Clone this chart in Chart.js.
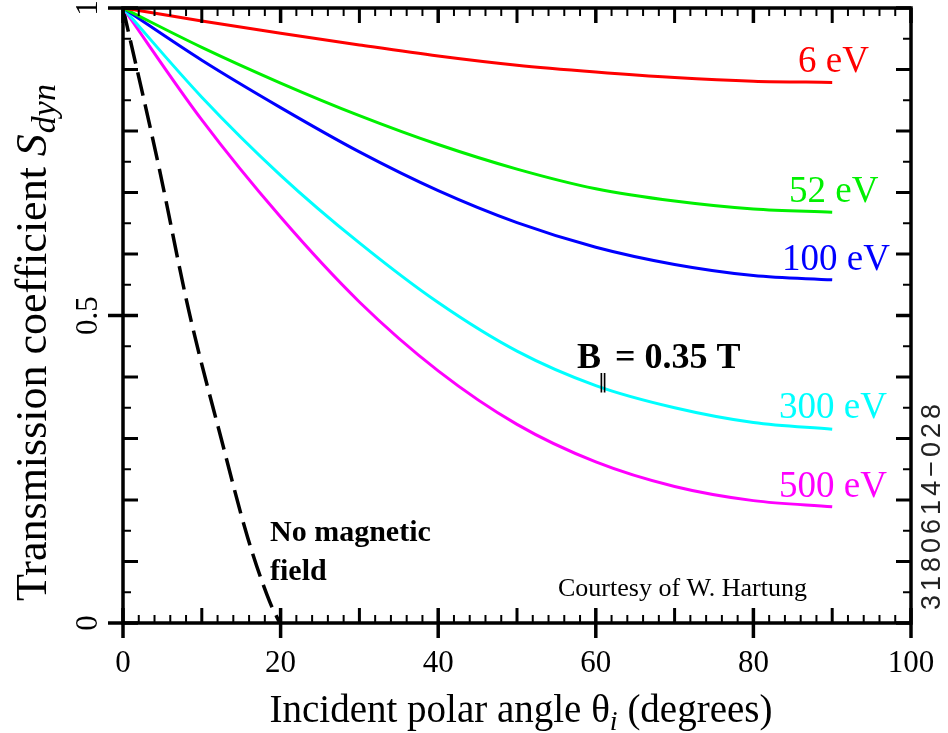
<!DOCTYPE html>
<html><head><meta charset="utf-8">
<script src="https://cdn.jsdelivr.net/npm/chart.js@4.4.1/dist/chart.umd.min.js"></script>
<style>html,body{margin:0;padding:0;background:#fff;}#wrap{width:948px;height:733px;}</style>
</head><body><div id="wrap"><canvas id="c" width="948" height="733"></canvas></div>
<script>
// ---- data ----
const angles = [0, 10, 20, 30, 40, 50, 60, 70, 80, 90];
const s6eV   = [1, 0.979, 0.959, 0.940, 0.922, 0.907, 0.896, 0.887, 0.881, 0.879];
const s52eV  = [1, 0.936, 0.878, 0.825, 0.778, 0.738, 0.706, 0.686, 0.673, 0.668];
const s100eV = [1, 0.915, 0.838, 0.766, 0.703, 0.651, 0.611, 0.583, 0.565, 0.558];
const s300eV = [1, 0.855, 0.728, 0.618, 0.521, 0.442, 0.386, 0.350, 0.326, 0.315];
const s500eV = [1, 0.818, 0.660, 0.522, 0.410, 0.323, 0.262, 0.222, 0.199, 0.189];
const noFieldAngles = [0, 4.5, 8.4, 12.5, 15.8, 18.6, 19.9];
const noFieldS      = [1, 0.745, 0.505, 0.298, 0.14, 0.035, 0];
const xTicks = [0, 20, 40, 60, 80, 100];
const yTicks = [0, 0.5, 1];
const yTickLabels = ['0', '0.5', '1'];
const seriesLabels = ['6 eV', '52 eV', '100 eV', '300 eV', '500 eV'];

const SERIF = "'Liberation Serif', 'Times New Roman', serif";
const SANS = "'Liberation Sans', Arial, sans-serif";
const colors = ['#ff0000', '#00f000', '#0000ff', '#00ffff', '#ff00ff'];
const seriesValues = [s6eV, s52eV, s100eV, s300eV, s500eV];
const pts = (xs, ys) => xs.map((v, i) => ({x: v, y: ys[i]}));

const datasets = seriesValues.map((vals, i) => ({
  label: seriesLabels[i], data: pts(angles, vals), borderColor: colors[i],
  borderWidth: 3, pointRadius: 0, cubicInterpolationMode: 'monotone', fill: false
}));
datasets.push({label: 'No magnetic field', data: pts(noFieldAngles, noFieldS), borderColor: '#000',
  borderWidth: 3.5, borderDash: [24, 9], pointRadius: 0, cubicInterpolationMode: 'monotone', fill: false});

// label placement (pixel offsets, style only)
const labelPos = [[798, 72], [789, 202], [782, 270], [779, 418], [779, 497]];

const framePlugin = {
  id: 'frame',
  afterDatasetsDraw(chart) {
    const {ctx, chartArea: a, scales: {x, y}} = chart;
    ctx.save();
    ctx.strokeStyle = '#000'; ctx.lineCap = 'butt';
    for (let v = 0; v <= 100; v += 2) {
      const px = x.getPixelForValue(v);
      let len = 8, w = 2, out = 0;
      if (v % 20 === 0) { len = 15; w = 3.5; out = 15; } else if (v % 10 === 0) { len = 15; w = 3; }
      ctx.lineWidth = w;
      ctx.beginPath(); ctx.moveTo(px, a.bottom + out); ctx.lineTo(px, a.bottom - len); ctx.stroke();
      ctx.beginPath(); ctx.moveTo(px, a.top); ctx.lineTo(px, a.top + len); ctx.stroke();
    }
    for (let i = 0; i <= 20; i++) {
      const py = y.getPixelForValue(i * 0.05);
      let len = 8, w = 2, out = 0;
      if (i % 10 === 0) { len = 15; w = 3.5; out = 15; } else if (i % 2 === 0) { len = 15; w = 3; }
      ctx.lineWidth = w;
      ctx.beginPath(); ctx.moveTo(a.left - out, py); ctx.lineTo(a.left + len, py); ctx.stroke();
      ctx.beginPath(); ctx.moveTo(a.right, py); ctx.lineTo(a.right - len, py); ctx.stroke();
    }
    ctx.lineWidth = 3.5;
    ctx.strokeRect(a.left, a.top, a.right - a.left, a.bottom - a.top);
    ctx.restore();
  },
  afterDraw(chart) {
    const {ctx, scales: {y}} = chart;
    ctx.save();
    ctx.fillStyle = '#000';
    // y tick labels (rotated)
    ctx.font = `31px ${SERIF}`;
    yTicks.forEach((v, i) => {
      ctx.save();
      ctx.translate(97, y.getPixelForValue(v));
      ctx.rotate(-Math.PI / 2);
      ctx.textAlign = 'center'; ctx.textBaseline = 'alphabetic';
      ctx.fillText(yTickLabels[i], 0, 0);
      ctx.restore();
    });
    // y axis title
    ctx.save();
    ctx.translate(46, 601);
    ctx.rotate(-Math.PI / 2);
    ctx.textAlign = 'left'; ctx.textBaseline = 'alphabetic';
    ctx.font = `44px ${SERIF}`;
    const t1 = 'Transmission coefficient ';
    ctx.fillText(t1, 0, 0);
    let off = ctx.measureText(t1).width;
    ctx.font = `italic 44px ${SERIF}`;
    ctx.fillText('S', off, 0);
    off += ctx.measureText('S').width + 1;
    ctx.font = `italic 34px ${SERIF}`;
    ctx.fillText('dyn', off, 9);
    ctx.restore();
    // x axis title
    ctx.save();
    ctx.textBaseline = 'alphabetic'; ctx.textAlign = 'left';
    const p1 = 'Incident polar angle θ', p3 = ' (degrees)';
    ctx.font = `39px ${SERIF}`;
    const w1 = ctx.measureText(p1).width, w3 = ctx.measureText(p3).width;
    ctx.font = `italic 28px ${SERIF}`;
    const w2 = ctx.measureText('i').width;
    const sx = 521 - (w1 + w2 + w3) / 2;
    ctx.font = `39px ${SERIF}`;
    ctx.fillText(p1, sx, 722);
    ctx.font = `italic 28px ${SERIF}`;
    ctx.fillText('i', sx + w1, 730);
    ctx.font = `39px ${SERIF}`;
    ctx.fillText(p3, sx + w1 + w2, 722);
    ctx.restore();
    // series labels
    ctx.font = `37px ${SERIF}`;
    ctx.textAlign = 'left'; ctx.textBaseline = 'alphabetic';
    seriesLabels.forEach((t, i) => {
      ctx.fillStyle = colors[i];
      ctx.fillText(t, labelPos[i][0], labelPos[i][1]);
    });
    // B annotation
    ctx.fillStyle = '#000';
    ctx.font = `bold 36px ${SERIF}`;
    ctx.fillText('B', 577, 368);
    ctx.font = `20px 'DejaVu Sans', sans-serif`;
    ctx.fillText('\u2016', 598, 388);
    ctx.font = `bold 36px ${SERIF}`;
    ctx.fillText('= 0.35 T', 615, 368);
    // No magnetic field
    ctx.font = `bold 30px ${SERIF}`;
    ctx.fillText('No magnetic', 270, 541);
    ctx.fillText('field', 270, 580);
    // courtesy
    ctx.font = `26px ${SERIF}`;
    ctx.fillText('Courtesy of W. Hartung', 558, 596);
    // id at right
    ctx.save();
    ctx.translate(940, 505);
    ctx.rotate(-Math.PI / 2);
    ctx.textAlign = 'center';
    ctx.fillStyle = '#222';
    ctx.font = `27px ${SANS}`;
    try { ctx.letterSpacing = '4px'; } catch (e) {}
    ctx.fillText('3180614\u2212028', 0, 0);
    ctx.restore();
    ctx.restore();
  }
};

new Chart(document.getElementById('c'), {
  type: 'line',
  data: {datasets},
  options: {
    responsive: false, animation: false,
    layout: {padding: {top: 8, right: 37, left: 0, bottom: 0}},
    plugins: {legend: {display: false}, tooltip: {enabled: false}},
    scales: {
      x: {
        type: 'linear', min: 0, max: 100,
        afterBuildTicks: s => { s.ticks = xTicks.map(v => ({value: v})); },
        grid: {display: false, drawTicks: false}, border: {display: false},
        ticks: {font: {family: SERIF, size: 31}, color: '#000', padding: 22, maxRotation: 0, minRotation: 0},
        afterFit: s => { s.height = 110; s.paddingLeft = 0; s.paddingRight = 0; }
      },
      y: {
        type: 'linear', min: 0, max: 1,
        afterBuildTicks: s => { s.ticks = yTicks.map(v => ({value: v})); },
        grid: {display: false, drawTicks: false}, border: {display: false},
        ticks: {display: false},
        afterFit: s => { s.width = 123; s.paddingTop = 0; s.paddingBottom = 0; }
      }
    }
  },
  plugins: [framePlugin]
});
</script></body></html>
